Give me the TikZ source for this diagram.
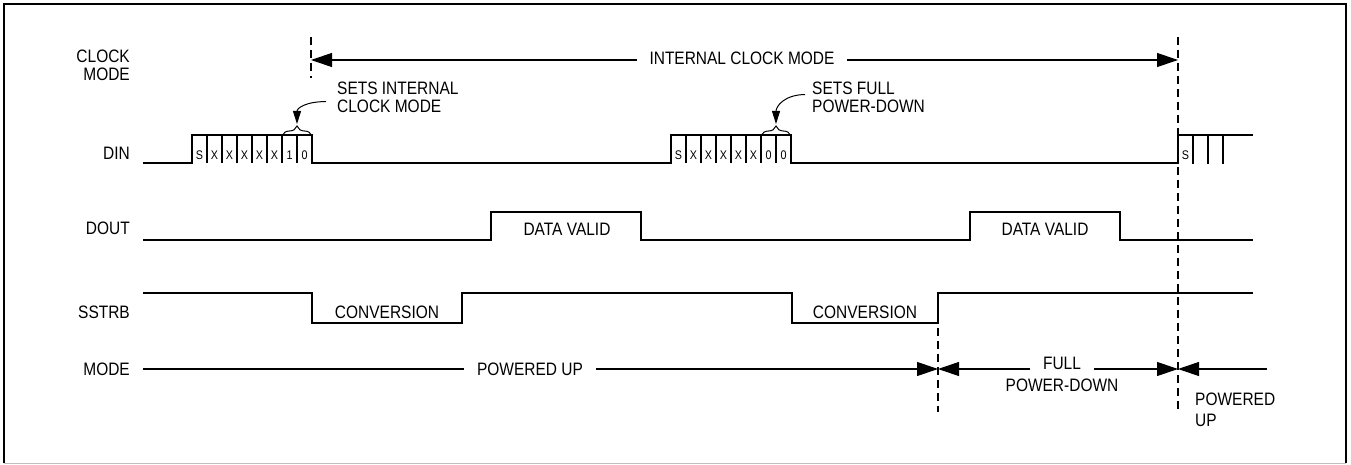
\documentclass[tikz,border=0pt]{standalone}
\usepackage{fontspec}
\setmainfont{Liberation Sans}[FakeStretch=0.86]
\usetikzlibrary{arrows.meta,decorations.pathreplacing}

\tikzset{
  wave/.style={line width=1.2pt},
  txt/.style={font=\fontsize{18}{18}\selectfont, inner sep=0pt},
  bit/.style={font=\fontsize{12.5}{12.5}\selectfont, inner sep=0pt, anchor=base},
  timeline/.style={line width=1.1pt, dash pattern=on 8pt off 5pt},
  gaptxt/.style={txt, fill=white, inner xsep=13pt, inner ysep=3pt},
  span/.style={line width=1.1pt},
  >={Triangle[length=21pt,width=14pt]}
}

\begin{document}
\begin{tikzpicture}[x=1pt,y=-1pt]
\useasboundingbox (0,0) rectangle (1351,465);
% frame
\draw[line width=1.5pt] (4,463) -- (4,4) -- (1346,4) -- (1346,463);
\draw[line width=1pt,black!25] (4,463) -- (1346,463);

% row names
\node[txt,anchor=north east,align=right] (lclk) at (130,50) {CLOCK\\MODE};
\node[txt,anchor=base east] (ldin) at (130,160) {DIN};
\node[txt,anchor=base east] (ldout) at (130,234) {DOUT};
\node[txt,anchor=base east] (lsstrb) at (130,318) {SSTRB};
\node[txt,anchor=base east] (lmode) at (130,375) {MODE};

% time marks
\draw[timeline] (311,37) -- (311,78);
\draw[timeline] (1178,37) -- (1178,412);
\draw[timeline] (938,328) -- (938,412);

% clock mode
\draw[span,<->] (311,60) -- (1178,60);
\node[gaptxt] (intclk) at (742,58.5) {INTERNAL CLOCK MODE};

% DIN
\draw[wave] (143,163) -- (192,163) -- (192,135) -- (312,135) -- (312,163)
  -- (671,163) -- (671,135) -- (791,135) -- (791,163)
  -- (1178,163) -- (1178,135) -- (1253,135);
\foreach \x in {207,222,...,297} {
\draw[wave] (\x,135) -- (\x,163);
}
\foreach \x in {686,701,...,776} {
\draw[wave] (\x,135) -- (\x,163);
}
\foreach \x in {1193,1208,1223} {
\draw[wave] (\x,135) -- (\x,164);
}
\foreach \b [count=\i from 0] in {S,X,X,X,X,X,1,0} {
\node[bit] (bita\i) at ({199.5+15*\i},159.5) {\b};
}
\foreach \b [count=\i from 0] in {S,X,X,X,X,X,0,0} {
\node[bit] (bitb\i) at ({678.5+15*\i},159.5) {\b};
}
\node[bit] (bitc0) at (1185.5,159.5) {S};

% braces and notes
\draw[line width=1pt,decorate,decoration={brace,amplitude=10pt}] (282,136) -- (312,136);
\draw[line width=1pt,decorate,decoration={brace,amplitude=10pt}] (761,136) -- (791,136);
\coordinate (bA) at (297,124);
\coordinate (bB) at (776,124);
\node[txt,anchor=north west,align=left] (setint) at (337,82) {SETS INTERNAL\\CLOCK MODE};
\node[txt,anchor=north west,align=left] (setfull) at (812,82) {SETS FULL\\POWER-DOWN};
\draw[line width=1pt,-{Triangle[length=13pt,width=8pt]}] ([xshift=-11pt,yshift=-4pt]setint.west)
  .. controls +(-20,0) and +(0,-16) .. (bA);
\draw[line width=1pt,-{Triangle[length=13pt,width=8pt]}] ([xshift=-7pt,yshift=3pt]setfull.west)
  .. controls +(-20,0) and +(0,-18) .. (bB);

% DOUT
\draw[wave] (143,240) -- (491,240) -- (491,212) -- (641,212) -- (641,240)
  -- (970,240) -- (970,212) -- (1120,212) -- (1120,240) -- (1253,240);
\node[txt] (dva) at (567,229) {DATA VALID};
\node[txt] (dvb) at (1045,229) {DATA VALID};

% SSTRB
\draw[wave] (143,293) -- (312,293) -- (312,323) -- (462,323) -- (462,293)
  -- (792,293) -- (792,323) -- (938,323) -- (938,293) -- (1253,293);
\node[txt] (cva) at (387,312) {CONVERSION};
\node[txt] (cvb) at (865,312) {CONVERSION};

% MODE
\draw[span,->] (143,369) -- (938,369);
\draw[span,<->] (938,369) -- (1178,369);
\draw[span,->] (1267,369) -- (1178,369);
\node[gaptxt] (pwrup) at (530,369) {POWERED UP};
\node[gaptxt,anchor=base,text depth=4pt] (full) at (1062,369.5) {FULL};
\node[txt,anchor=base] (pdown) at (1062,391) {POWER-DOWN};
\node[txt,anchor=north west,align=left] (pwrupb) at (1195,393) {POWERED\\[3pt]UP};

\end{tikzpicture}
\end{document}
